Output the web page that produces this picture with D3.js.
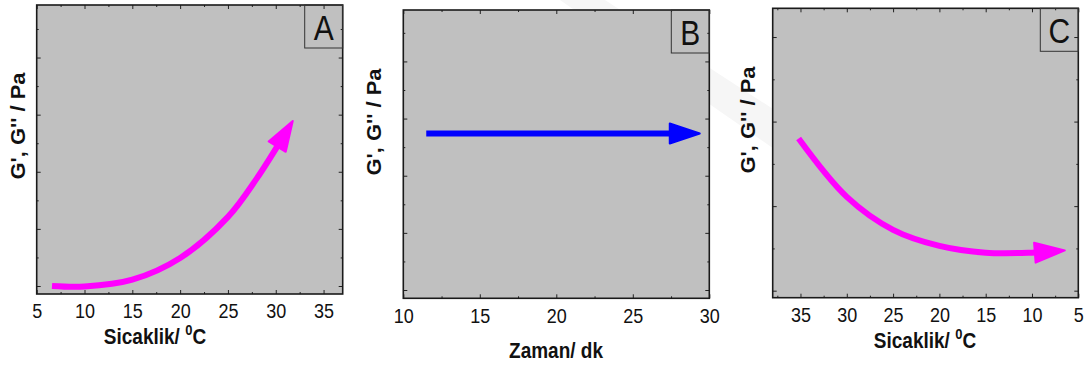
<!DOCTYPE html>
<html>
<head>
<meta charset="utf-8">
<script src="https://cdn.jsdelivr.net/npm/d3@7"></script>
<style>
  body { margin: 0; background: #fff; }
  svg { display: block; }
  text { font-family: "Liberation Sans", Arial, sans-serif; }
</style>
</head>
<body>
<svg id="chart" width="1091" height="365"></svg>
<script>
// data (y in arbitrary tick units, no labels on y)
const heatX = [6.6, 10, 15, 20, 25, 28, 30.8]
const heatY = [0.0, -0.01, 0.11, 0.49, 1.21, 1.88, 2.62]
const timeX = [11.5, 28.2]
const timeY = [2.74, 2.74]
const coolX = [35.2, 30, 25, 20, 15, 10, 8.4]
const coolY = [1.80, 1.11, 0.72, 0.53, 0.45, 0.45, 0.46]

const ticksA = [5, 10, 15, 20, 25, 30, 35]
const minorA = [7.5, 12.5, 17.5, 22.5, 27.5, 32.5]
const ticksB = [10, 15, 20, 25, 30]
const minorB = [12.5, 17.5, 22.5, 27.5]
const ticksC = [35, 30, 25, 20, 15, 10, 5]
const minorC = [37.5, 32.5, 27.5, 22.5, 17.5, 12.5, 7.5]
const yMajor = [0, 1, 2, 3, 4]
const yMinor = [0.5, 1.5, 2.5, 3.5, 4.5]
const yMajorC = [0, 1, 2, 3]
const yMinorC = [0.5, 1.5, 2.5]

const svg = d3.select("#chart")
const stretch = 1.15  // the source picture is a little taller than wide

// arrow heads
const defs = svg.append("defs")
function marker(id, color) {
  defs.append("marker")
    .attr("id", id)
    .attr("markerUnits", "userSpaceOnUse")
    .attr("markerWidth", 40)
    .attr("markerHeight", 30)
    .attr("refX", 12)
    .attr("refY", 10)
    .attr("orient", "auto")
    .style("overflow", "visible")
    .append("path")
    .attr("d", "M0,0 L30,10 L0,20 Z")
    .attr("fill", color)
    .attr("stroke", color)
    .attr("stroke-width", 2)
    .attr("stroke-linejoin", "round")
}
marker("headM", "#ff00ff")
marker("headB", "#0000ff")

// faint watermark in the background
svg.append("path")
  .attr("d", "M560,0 L605,0 L790,120 L790,160 Z")
  .attr("fill", "#f6f6f6")

const panels = [
  { letter: "A", left: 36.7, right: 342.7, top: 5, bottom: 294,
    xDom: [5, 37], xt: ticksA, xm: minorA, yDom: [-0.14, 4.92], yt: yMajor, ym: yMinor,
    xs: heatX, ys: heatY, color: "#ff00ff", head: "headM",
    ytx: 24.5, yty: 126, xtitle: "Sicaklik/ ", sup: true, xtx: 155, xty: 344 },
  { letter: "B", left: 403.3, right: 709.3, top: 10, bottom: 298.3,
    xDom: [10, 30], xt: ticksB, xm: minorB, yDom: [-0.145, 4.9], yt: yMajor, ym: yMinor,
    xs: timeX, ys: timeY, color: "#0000ff", head: "headB",
    ytx: 381, yty: 122, xtitle: "Zaman/ dk", sup: false, xtx: 556, xty: 358 },
  { letter: "C", left: 772.7, right: 1078.3, top: 8.3, bottom: 297.7,
    xDom: [38, 5], xt: ticksC, xm: minorC, yDom: [-0.083, 3.34], yt: yMajorC, ym: yMinorC,
    xs: coolX, ys: coolY, color: "#ff00ff", head: "headM",
    ytx: 754.5, yty: 120, xtitle: "Sicaklik/ ", sup: true, xtx: 925, xty: 348 }
]

panels.forEach(p => {
  const x = d3.scaleLinear().domain(p.xDom).range([p.left, p.right])
  const y = d3.scaleLinear().domain(p.yDom).range([p.bottom, p.top])
  const g = svg.append("g")

  g.append("rect")
    .attr("x", p.left).attr("y", p.top)
    .attr("width", p.right - p.left).attr("height", p.bottom - p.top)
    .attr("fill", "#c0c0c0")

  // ticks point inward on all four sides
  function axis(gen, tr, vals, size, labels) {
    const a = g.append("g").attr("transform", tr)
      .call(gen.tickValues(vals).tickSizeInner(size).tickSizeOuter(0)
        .tickPadding(labels ? 8.5 : 0).tickFormat(labels ? d3.format("d") : ""))
    a.select(".domain").remove()
    a.selectAll("line").attr("stroke", "#222").attr("stroke-width", 1)
    a.selectAll("text")
      .attr("font-size", 18).attr("fill", "#111")
      .attr("transform", `scale(1,${stretch})`)
  }
  axis(d3.axisBottom(x), `translate(0,${p.bottom})`, p.xt, -4, true)
  axis(d3.axisBottom(x), `translate(0,${p.bottom})`, p.xm, -2, false)
  axis(d3.axisTop(x), `translate(0,${p.top})`, p.xt, -4, false)
  axis(d3.axisTop(x), `translate(0,${p.top})`, p.xm, -2, false)
  axis(d3.axisLeft(y), `translate(${p.left},0)`, p.yt, -4, false)
  axis(d3.axisLeft(y), `translate(${p.left},0)`, p.ym, -2, false)
  axis(d3.axisRight(y), `translate(${p.right},0)`, p.yt, -4, false)
  axis(d3.axisRight(y), `translate(${p.right},0)`, p.ym, -2, false)

  g.append("rect")
    .attr("x", p.left).attr("y", p.top)
    .attr("width", p.right - p.left).attr("height", p.bottom - p.top)
    .attr("fill", "none").attr("stroke", "#1a1a1a").attr("stroke-width", 1.6)

  // panel letter box
  g.append("rect")
    .attr("x", p.right - 38).attr("y", p.top)
    .attr("width", 38).attr("height", 43)
    .attr("fill", "none").attr("stroke", "#333").attr("stroke-width", 1)
  g.append("text")
    .attr("transform", `translate(${p.right - 19},${p.top + 35}) scale(1,${stretch})`)
    .attr("text-anchor", "middle")
    .attr("font-size", 30)
    .attr("fill", "#111")
    .text(p.letter)

  // the arrow
  const pts = p.xs.map((v, i) => [x(v), y(p.ys[i])])
  g.append("path")
    .attr("d", d3.line().curve(d3.curveCatmullRom.alpha(0.5))(pts))
    .attr("fill", "none")
    .attr("stroke", p.color)
    .attr("stroke-width", 6)
    .attr("marker-end", `url(#${p.head})`)

  // titles
  g.append("text")
    .attr("transform", `translate(${p.ytx},${p.yty}) rotate(-90)`)
    .attr("text-anchor", "middle")
    .attr("font-size", 19.5)
    .attr("font-weight", "bold")
    .attr("textLength", 107)
    .attr("lengthAdjust", "spacingAndGlyphs")
    .attr("fill", "#111")
    .text("G', G'' / Pa")

  const t = g.append("text")
    .attr("transform", `translate(${p.xtx},${p.xty}) scale(1,${stretch})`)
    .attr("text-anchor", "middle")
    .attr("font-size", 19)
    .attr("font-weight", "bold")
    .attr("fill", "#111")
  t.append("tspan").text(p.xtitle)
  if (p.sup) {
    t.append("tspan").attr("font-size", 13).attr("dy", -8).text("0")
    t.append("tspan").attr("dy", 8).text("C")
  }
})
</script>
</body>
</html>
